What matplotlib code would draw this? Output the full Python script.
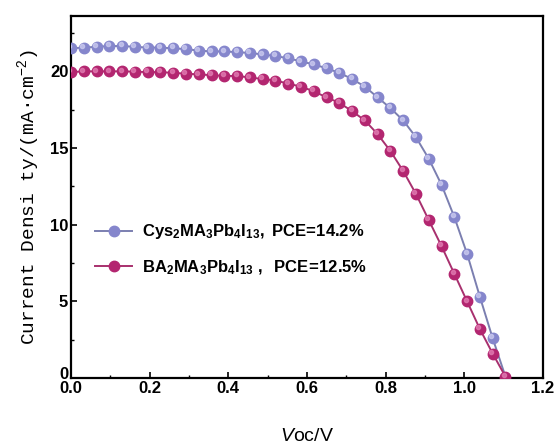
import numpy as np
import matplotlib.pyplot as plt
import matplotlib.transforms as mtransforms
from matplotlib.ticker import MultipleLocator

plt.rcParams['mathtext.fontset'] = 'custom'
plt.rcParams['mathtext.bf'] = 'Liberation Sans:bold'
plt.rcParams['mathtext.rm'] = 'Liberation Sans'
plt.rcParams['mathtext.it'] = 'Liberation Sans:italic'

# voltage grid (V)
voltage = [0.000, 0.0325, 0.065, 0.0975, 0.130, 0.1625, 0.195, 0.2275, 0.260, 0.2925,
           0.325, 0.3575, 0.390, 0.4225, 0.455, 0.4875, 0.520, 0.5525, 0.585, 0.6175,
           0.650, 0.6825, 0.715, 0.7475, 0.780, 0.8125, 0.845, 0.8775, 0.910, 0.9425,
           0.975, 1.0075, 1.040, 1.0725, 1.105]

# current density (mA cm-2)
j_cys = [21.5, 21.55, 21.6, 21.65, 21.65, 21.6, 21.55, 21.55, 21.5, 21.45,
         21.35, 21.3, 21.3, 21.25, 21.2, 21.1, 21.0, 20.85, 20.65, 20.45,
         20.2, 19.9, 19.5, 19.0, 18.3, 17.6, 16.8, 15.7, 14.3, 12.6,
         10.5, 8.1, 5.3, 2.6]
j_ba = [19.95, 20.0, 20.0, 20.0, 20.0, 19.98, 19.95, 19.95, 19.9, 19.85,
        19.8, 19.75, 19.7, 19.7, 19.6, 19.5, 19.4, 19.2, 19.0, 18.7,
        18.3, 17.95, 17.4, 16.8, 15.9, 14.8, 13.5, 12.0, 10.3, 8.6,
        6.8, 5.0, 3.2, 1.6, 0.1]

x_ticks = [0.0, 0.2, 0.4, 0.6, 0.8, 1.0, 1.2]
y_ticks = [0, 5, 10, 15, 20]

label_cys = r'$\mathbf{Cys_2MA_3Pb_4I_{13},\ PCE\!=\!14.2\%}$'
label_ba = r'$\mathbf{BA_2MA_3Pb_4I_{13}\ ,\ \ PCE\!=\!12.5\%}$'

fig = plt.figure(figsize=(5.55, 4.48), dpi=100)
ax = fig.add_axes([0.128, 0.156, 0.850, 0.808])

blue_line = '#7b7fb0'
blue_mk = '#8586cc'
red_line = '#a8306e'
red_mk = '#b32670'

# tail of the blue curve runs down to the red end point
ax.plot(voltage[len(j_cys) - 1:], [j_cys[-1], j_ba[-1]], color=blue_line, lw=1.4, zorder=2)
ax.plot(voltage[:len(j_cys)], j_cys, '-o', color=blue_line, mfc=blue_mk, mec=blue_mk,
        ms=7.5, lw=1.4, label=label_cys, zorder=3)
ax.plot(voltage[:len(j_ba)], j_ba, '-o', color=red_line, mfc=red_mk, mec=red_mk,
        ms=7.5, lw=1.4, label=label_ba, zorder=4)
# highlight on the markers
ax.plot(np.array(voltage[:len(j_cys)]) - 0.004, np.array(j_cys) + 0.12, 'o', color='#c8c8ee',
        ms=3, alpha=0.8, zorder=5)
ax.plot(np.array(voltage[:len(j_ba)]) - 0.004, np.array(j_ba) + 0.12, 'o', color='#e07ab0',
        ms=3, alpha=0.8, zorder=5)

ax.set_xlim(0, 1.2)
ax.set_ylim(0, 23.6)
ax.set_xticks(x_ticks, [f'{v:.1f}' for v in x_ticks])
ax.set_yticks(y_ticks, [str(v) for v in y_ticks])
ax.xaxis.set_minor_locator(MultipleLocator(0.1))
ax.yaxis.set_minor_locator(MultipleLocator(2.5))
ax.tick_params(which='both', direction='in', top=False, right=False)
ax.tick_params(which='major', length=4, width=1.2, labelsize=12, pad=2)
ax.tick_params(which='minor', length=2.5, width=1.0)
for lab in ax.get_xticklabels() + ax.get_yticklabels():
    lab.set_fontfamily('Liberation Sans')
    lab.set_fontweight('bold')
for sp in ax.spines.values():
    sp.set_linewidth(1.6)

# nudge the y "0" up so it sits above the x "0.0"
for tick in ax.yaxis.get_major_ticks():
    if tick.get_loc() == 0:
        tick.label1.set_transform(tick.label1.get_transform() +
                                  mtransforms.ScaledTranslation(0, 4 / 72, fig.dpi_scale_trans))

ax.set_xlabel(r'$\mathit{V}\mathrm{oc/V}$', fontsize=14, labelpad=22)
ax.set_ylabel('Current Densi ty/(mA·cm$^{-2}$)', fontsize=14, family='Liberation Mono',
              labelpad=6)

ax.legend(loc='center left', bbox_to_anchor=(0.02, 0.355), frameon=False, fontsize=12,
          handlelength=2.2, handletextpad=0.6, labelspacing=1.0)

fig.savefig('out.png', dpi=100)
